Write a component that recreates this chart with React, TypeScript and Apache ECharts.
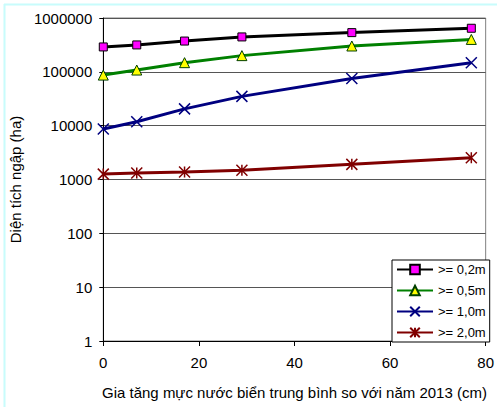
import React, { useEffect, useRef } from "react";
import * as echarts from "echarts";

const xValues = [0, 7, 17, 29, 52, 77];
const seriesNames = [">= 0,2m", ">= 0,5m", ">= 1,0m", ">= 2,0m"];
const s02 = [290000, 316000, 373000, 445000, 535000, 645000];
const s05 = [87000, 108000, 148000, 200000, 302000, 400000];
const s10 = [8700, 11800, 20500, 35000, 75000, 148000];
const s20 = [1260, 1320, 1380, 1480, 1910, 2540];
const xTitle = "Gia tăng mực nước biển trung bình so với năm 2013 (cm)";
const yTitle = "Diện tích ngập (ha)";

const FONT = "Liberation Sans, Arial, sans-serif";

export default function App() {
  const ref = useRef<HTMLDivElement>(null);
  useEffect(() => {
    if (!ref.current) return;
    const chart = echarts.init(ref.current, undefined, { renderer: "svg" });
    const mk = (vals: number[]) => xValues.map((x, i) => [x, vals[i]]);
    const xPath = "path://M0,0L10,10M10,0L0,10";
    const starPath = "path://M0,0L10,10M10,0L0,10M5,0L5,10";
    chart.setOption({
      animation: false,
      backgroundColor: "#ffffff",
      textStyle: { fontFamily: FONT },
      graphic: [
        { type: "line", shape: { x1: 4.5, y1: 4, x2: 4.5, y2: 407 }, style: { stroke: "#c8fcfc", lineWidth: 2 } },
        { type: "line", shape: { x1: 4, y1: 4.5, x2: 497, y2: 4.5 }, style: { stroke: "#c8fcfc", lineWidth: 2 } },
      ],
      grid: {
        left: 102,
        right: 10,
        top: 18,
        bottom: 66,
        show: true,
        borderColor: "#808080",
        borderWidth: 1,
        backgroundColor: "transparent",
      },
      legend: {
        orient: "vertical",
        left: 392,
        top: 260,
        itemWidth: 36,
        itemHeight: 12,
        itemGap: 8,
        padding: [3, 4, 3, 4],
        borderColor: "#000",
        borderWidth: 1,
        backgroundColor: "#fff",
        textStyle: { fontFamily: FONT, fontSize: 13, color: "#000" },
        data: seriesNames,
      },
      xAxis: {
        type: "value",
        min: 0,
        max: 80,
        interval: 20,
        name: xTitle,
        nameLocation: "middle",
        nameGap: 44,
        nameTextStyle: { fontFamily: FONT, fontSize: 15, color: "#000" },
        axisLine: { show: true, lineStyle: { color: "#000", width: 1 } },
        axisTick: { show: true, inside: false, length: 5, lineStyle: { color: "#000" } },
        axisLabel: { fontFamily: FONT, fontSize: 15, color: "#000", margin: 14 },
        splitLine: { show: false },
      },
      yAxis: {
        type: "log",
        logBase: 10,
        min: 1,
        max: 1000000,
        name: yTitle,
        nameLocation: "middle",
        nameGap: 76,
        nameRotate: 90,
        nameTextStyle: { fontFamily: FONT, fontSize: 15, color: "#000" },
        axisLine: { show: true, lineStyle: { color: "#000", width: 1 } },
        axisTick: { show: true, inside: false, length: 4, lineStyle: { color: "#000" } },
        axisLabel: {
          fontFamily: FONT,
          fontSize: 15,
          color: "#000",
          margin: 11,
          formatter: (v: number) => String(Math.round(v)),
        },
        splitLine: { show: true, lineStyle: { color: "#555", width: 1 } },
        minorTick: { show: false },
      },
      series: [
        {
          name: seriesNames[0],
          type: "line",
          data: mk(s02),
          symbol: "rect",
          symbolSize: 8,
          lineStyle: { color: "#000000", width: 3 },
          itemStyle: { color: "#ff00ff", borderColor: "#000", borderWidth: 1 },
          z: 5,
        },
        {
          name: seriesNames[1],
          type: "line",
          data: mk(s05),
          symbol: "triangle",
          symbolSize: 10,
          lineStyle: { color: "#008000", width: 3 },
          itemStyle: { color: "#ffff00", borderColor: "#004000", borderWidth: 1 },
          z: 4,
        },
        {
          name: seriesNames[2],
          type: "line",
          data: mk(s10),
          symbol: xPath,
          symbolSize: 11,
          lineStyle: { color: "#000080", width: 3 },
          itemStyle: { color: "#000080", borderColor: "#000080", borderWidth: 1.5 },
          z: 3,
        },
        {
          name: seriesNames[3],
          type: "line",
          data: mk(s20),
          symbol: starPath,
          symbolSize: 11,
          lineStyle: { color: "#800000", width: 3 },
          itemStyle: { color: "#800000", borderColor: "#800000", borderWidth: 1.5 },
          z: 2,
        },
      ],
    });
    return () => chart.dispose();
  }, []);
  return <div ref={ref} style={{ width: 497, height: 407, position: "fixed", left: 0, top: 0 }} />;
}
